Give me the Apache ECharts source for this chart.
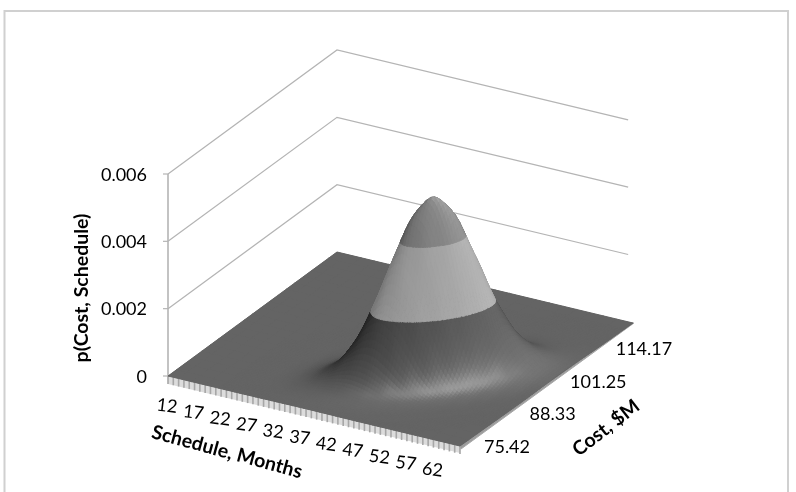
<!DOCTYPE html>
<html>
<head>
<meta charset="utf-8">
<style>html,body{margin:0;padding:0;background:#fff}#chart{width:796px;height:492px}</style>
<script src="https://cdn.jsdelivr.net/npm/echarts@6/dist/echarts.min.js"></script>
</head>
<body>
<div id="chart"></div>
<script>
// Joint density of cost and schedule, in millionths, one row per cost step.
var scheduleMonths = [12,14,16.5,19,21.5,24,26.5,29,31.5,34,36.5,39,41.5,44,46.5,49,51.5,54,56.5,59,61.5,64,67];
var costMillions = [75.42,77.87,80.32,82.76,85.21,87.66,90.11,92.55,95,97.45,99.9,102.34,104.79,107.24,109.69,112.13,114.58,117.03,119.48,121.92,124.37];
var densityMicro = [
  [0,0,0,0,0,0,1,2,5,7,9,8,6,3,1,0,0,0,0,0,0,0,0],
  [0,0,0,0,0,0,2,5,14,26,37,40,33,21,10,4,1,0,0,0,0,0,0],
  [0,0,0,0,0,0,3,10,29,66,111,142,138,102,57,24,8,2,0,0,0,0,0],
  [0,0,0,0,0,0,3,14,48,126,251,379,435,379,251,126,48,14,3,0,0,0,0],
  [0,0,0,0,0,0,3,14,58,178,420,750,1015,1044,814,482,217,74,19,4,0,0,0],
  [0,0,0,0,0,0,2,11,51,188,522,1099,1756,2130,1961,1370,726,292,89,21,4,0,0],
  [0,0,0,0,0,0,1,6,34,147,480,1195,2255,3228,3506,2891,1809,859,309,85,18,3,0],
  [0,0,0,0,0,0,0,2,17,85,329,966,2147,3627,4648,4522,3339,1868,794,257,63,11,2],
  [0,0,0,0,0,0,0,1,6,37,167,578,1518,3024,4574,5250,4574,3024,1518,578,167,37,6],
  [0,0,0,0,0,0,0,0,2,11,63,257,794,1868,3339,4522,4648,3627,2147,966,329,85,17],
  [0,0,0,0,0,0,0,0,0,3,18,85,309,859,1809,2891,3506,3228,2255,1195,480,147,34],
  [0,0,0,0,0,0,0,0,0,0,4,21,89,292,726,1370,1961,2130,1756,1099,522,188,51],
  [0,0,0,0,0,0,0,0,0,0,0,4,19,74,217,482,814,1044,1015,750,420,178,58],
  [0,0,0,0,0,0,0,0,0,0,0,0,3,14,48,126,251,379,435,379,251,126,48],
  [0,0,0,0,0,0,0,0,0,0,0,0,0,2,8,24,57,102,138,142,111,66,29],
  [0,0,0,0,0,0,0,0,0,0,0,0,0,0,0,4,10,21,33,40,37,26,14],
  [0,0,0,0,0,0,0,0,0,0,0,0,0,0,0,0,1,3,6,8,9,7,5],
  [0,0,0,0,0,0,0,0,0,0,0,0,0,0,0,0,0,0,0,1,2,2,1],
  [0,0,0,0,0,0,0,0,0,0,0,0,0,0,0,0,0,0,0,0,0,0,0],
  [0,0,0,0,0,0,0,0,0,0,0,0,0,0,0,0,0,0,0,0,0,0,0],
  [0,0,0,0,0,0,0,0,0,0,0,0,0,0,0,0,0,0,0,0,0,0,0]
];
var scheduleLabels = [12,17,22,27,32,37,42,47,52,57,62];
var costLabels = [75.42,88.33,101.25,114.17];
var valueLabels = ['0','0.002','0.004','0.006'];
var valueTicks = [0,2000,4000,6000];

// Floor of the 3D box on the page: front-left, front-right, back-right, back-left.
var FLOOR = {a:[168,376], b:[460,446], c:[633,323], d:[337,252]};
var Z_PX = 202/6000;
var FONT = 'Lato, "Open Sans", sans-serif';
var sRange = [scheduleMonths[0], scheduleMonths[scheduleMonths.length-1]];
var cRange = [costMillions[0], costMillions[costMillions.length-1]];
var map = echarts.number.linearMap;

function project(s, c, micro) {
  var u = map(s, sRange, [0,1]), v = map(c, cRange, [0,1]);
  var f = FLOOR, out = [];
  for (var i = 0; i < 2; i++) {
    out[i] = f.a[i] + u*(f.b[i]-f.a[i]) + v*(f.d[i]-f.a[i]) + u*v*(f.c[i]-f.d[i]-f.b[i]+f.a[i]);
  }
  out[1] -= micro*Z_PX;
  return out;
}

// Smooth surface lookup between table nodes, the same way a smoothed line runs through its points.
function cr(p0,p1,p2,p3,t){
  return 0.5*((2*p1)+(-p0+p2)*t+(2*p0-5*p1+4*p2-p3)*t*t+(-p0+3*p1-3*p2+p3)*t*t*t);
}
function node(k,m){
  k = Math.max(0,Math.min(scheduleMonths.length-1,k));
  m = Math.max(0,Math.min(costMillions.length-1,m));
  return densityMicro[m][k];
}
function height(x,y){
  var k = Math.min(Math.floor(x),scheduleMonths.length-2), m = Math.min(Math.floor(y),costMillions.length-2);
  var tx = x-k, ty = y-m, col = [];
  for (var j=-1;j<=2;j++){
    col.push(cr(node(k-1,m+j),node(k,m+j),node(k+1,m+j),node(k+2,m+j),tx));
  }
  return Math.max(0,cr(col[0],col[1],col[2],col[3],ty));
}

// Gray level of a patch from its slope and the band it belongs to.
var LIGHT = [0.6,-0.1,0.8];
var GLINT = [0.5,-0.6,0.62];
var STEP_S = 13.6, STEP_C = 10.7;
function gray(x,y,band){
  var e = 0.3;
  var hx = Math.max(0,x-e), hX = Math.min(scheduleMonths.length-1,x+e);
  var hy = Math.max(0,y-e), hY = Math.min(costMillions.length-1,y+e);
  var dx = (height(hX,y)-height(hx,y))*Z_PX/((hX-hx)*STEP_S);
  var dy = (height(x,hY)-height(x,hy))*Z_PX/((hY-hy)*STEP_C);
  var len = Math.sqrt(dx*dx+dy*dy+1);
  var n = [-dx/len,-dy/len,1/len];
  var d = Math.max(0,n[0]*LIGHT[0]+n[1]*LIGHT[1]+n[2]*LIGHT[2]);
  var g = Math.max(0,n[0]*GLINT[0]+n[1]*GLINT[1]+n[2]*GLINT[2]);
  var v;
  if (band === 0) v = 38+78*d+52*Math.pow(g,24);
  else if (band === 1) v = 122+72*d;
  else v = 88+75*d;
  v = Math.round(Math.min(255,v));
  return 'rgb('+v+','+v+','+v+')';
}

// Cut a patch (x,y,z corners) to the part between two heights.
function clip(poly,level,keepAbove){
  var out = [];
  for (var i=0;i<poly.length;i++){
    var a = poly[i], b = poly[(i+1)%poly.length];
    var ia = keepAbove ? a[2]>=level : a[2]<=level;
    var ib = keepAbove ? b[2]>=level : b[2]<=level;
    if (ia) out.push(a);
    if (ia!==ib){
      var t = (level-a[2])/(b[2]-a[2]);
      out.push([a[0]+t*(b[0]-a[0]),a[1]+t*(b[1]-a[1]),level]);
    }
  }
  return out;
}
function sAt(x){ var k=Math.min(Math.floor(x),scheduleMonths.length-2); return scheduleMonths[k]+(x-k)*(scheduleMonths[k+1]-scheduleMonths[k]); }
function cAt(y){ var m=Math.min(Math.floor(y),costMillions.length-2); return costMillions[m]+(y-m)*(costMillions[m+1]-costMillions[m]); }

function renderCell(params, api){
  var k = api.value(0), m = api.value(1), flat = true;
  for (var a=-1;a<=2;a++) for (var b=-1;b<=2;b++) if (node(k+a,m+b)>0) flat=false;
  var n = flat ? 1 : 5, kids = [];
  for (var j=n-1;j>=0;j--){
    for (var i=0;i<n;i++){
      var x0=k+i/n, x1=k+(i+1)/n, y0=m+j/n, y1=m+(j+1)/n;
      var quad = [[x0,y0,height(x0,y0)],[x1,y0,height(x1,y0)],[x1,y1,height(x1,y1)],[x0,y1,height(x0,y1)]];
      var edges = [[-1,2000],[2000,4000],[4000,1e9]];
      for (var q=0;q<3;q++){
        var poly = clip(clip(quad,edges[q][0],true),edges[q][1],false);
        if (poly.length<3) continue;
        var color = gray((x0+x1)/2,(y0+y1)/2,q);
        var pts = poly.map(function(p){
          return api.coord(project(sAt(p[0]),cAt(p[1]),p[2]));
        });
        kids.push({type:'polygon',shape:{points:pts},style:{fill:color,stroke:color,lineWidth:1}});
      }
    }
  }
  return {type:'group',children:kids};
}

// Back-to-front drawing order for the surface patches.
var cells = [];
for (var m=costMillions.length-2;m>=0;m--) for (var k=0;k<scheduleMonths.length-1;k++) cells.push([k,m]);

var WALL_END = 66.1;
var LINE = '#b4b4b4';
function renderWall(params, api){
  var z = api.value(0);
  var pts = [project(sRange[0],cRange[0],z),project(sRange[0],cRange[1],z),project(WALL_END,cRange[1],z)].map(api.coord);
  var kids = [];
  if (z>0) kids.push({type:'polyline',shape:{points:pts},style:{fill:null,stroke:LINE,lineWidth:1.2}});
  var t = pts[0];
  kids.push({type:'line',shape:{x1:t[0]-5,y1:t[1],x2:t[0],y2:t[1]},style:{stroke:LINE,lineWidth:1.2}});
  kids.push({type:'text',style:{text:valueLabels[params.dataIndex],x:t[0]-21,y:t[1]+1,align:'right',verticalAlign:'middle',fill:'#000',font:'18px '+FONT}});
  return {type:'group',children:kids};
}
function renderValueAxis(params, api){
  var lo = api.coord(project(sRange[0],cRange[0],valueTicks[0]));
  var hi = api.coord(project(sRange[0],cRange[0],valueTicks[valueTicks.length-1]));
  return {type:'line',shape:{x1:lo[0],y1:lo[1],x2:hi[0],y2:hi[1]},style:{stroke:LINE,lineWidth:1.6}};
}

function renderScheduleTick(params, api){
  var p = api.coord(project(api.value(0),cRange[0],0));
  return {type:'line',shape:{x1:p[0],y1:p[1],x2:p[0],y2:p[1]+8},style:{stroke:'#a6a6a6',lineWidth:1.6}};
}
var tickMonths = [];
for (var t=sRange[0];t<=sRange[1];t++) tickMonths.push(t);

function renderEdges(params, api){
  var a = api.coord(project(sRange[0],cRange[0],0)), b = api.coord(project(sRange[1],cRange[0],0)),
      c = api.coord(project(sRange[1],cRange[1],0)), d = api.coord(project(sRange[0],cRange[1],0));
  return {type:'group',children:[
    {type:'polygon',shape:{points:[a,b,[b[0],b[1]+7],[a[0],a[1]+8]]},style:{fill:'#dcdcdc'}},
    {type:'polygon',shape:{points:[b,c,[c[0]+1,c[1]],[b[0]+1,b[1]+3]]},style:{fill:'#9c9c9c',stroke:'#a8a8a8',lineWidth:1}},
    {type:'polygon',shape:{points:[a,b,c,d]},style:{fill:'#666'}}
  ]};
}

function renderScheduleLabel(params, api){
  var p = api.coord(project(api.value(0),cRange[0],0));
  return {type:'text',rotation:-0.12,x:p[0]-1,y:p[1]+30,style:{text:String(scheduleLabels[params.dataIndex]),align:'center',verticalAlign:'middle',fill:'#000',font:'18px '+FONT}};
}
function renderCostLabel(params, api){
  var p = api.coord(project(sRange[1],api.value(0),0));
  return {type:'text',x:p[0]+47,y:p[1]+1,style:{text:costLabels[params.dataIndex].toFixed(2),align:'center',verticalAlign:'middle',fill:'#000',font:'18px '+FONT}};
}

var titleStyle = {align:'center',verticalAlign:'middle',fill:'#000',font:'bold 19.5px '+FONT};

var chart = echarts.init(document.getElementById('chart'),null,{renderer:'canvas'});
function customSeries(data,renderItem,z){
  return {type:'custom',coordinateSystem:'cartesian2d',data:data,renderItem:renderItem,silent:true,clip:false,animation:false,progressive:0,z:z};
}
chart.setOption({
  animation:false,
  backgroundColor:'#fff',
  grid:{left:0,top:0,right:0,bottom:0},
  xAxis:{type:'value',min:0,max:796,show:false},
  yAxis:{type:'value',min:0,max:492,inverse:true,show:false},
  graphic:[
    {type:'polyline',shape:{points:[[4.5,500],[4.5,11],[788,11],[788,500]]},style:{fill:null,stroke:'#d0d0d0',lineWidth:2},silent:true},
    {type:'text',x:227,y:452,rotation:-0.265,style:Object.assign({text:'Schedule, Months'},titleStyle),silent:true},
    {type:'text',x:606,y:428,rotation:0.66,style:Object.assign({text:'Cost, $M'},titleStyle),silent:true},
    {type:'text',x:82,y:288,rotation:Math.PI/2,style:Object.assign({text:'p(Cost, Schedule)'},titleStyle),silent:true}
  ],
  series:[
    customSeries(valueTicks.map(function(v){return [v];}),renderWall,1),
    customSeries([[0]],renderValueAxis,1),
    customSeries([[0]],renderEdges,2),
    customSeries(tickMonths.map(function(v){return [v];}),renderScheduleTick,3),
    customSeries(cells,renderCell,4),
    customSeries(scheduleLabels.map(function(v){return [v];}),renderScheduleLabel,5),
    customSeries(costLabels.map(function(v){return [v];}),renderCostLabel,5)
  ]
});
</script>
</body>
</html>
